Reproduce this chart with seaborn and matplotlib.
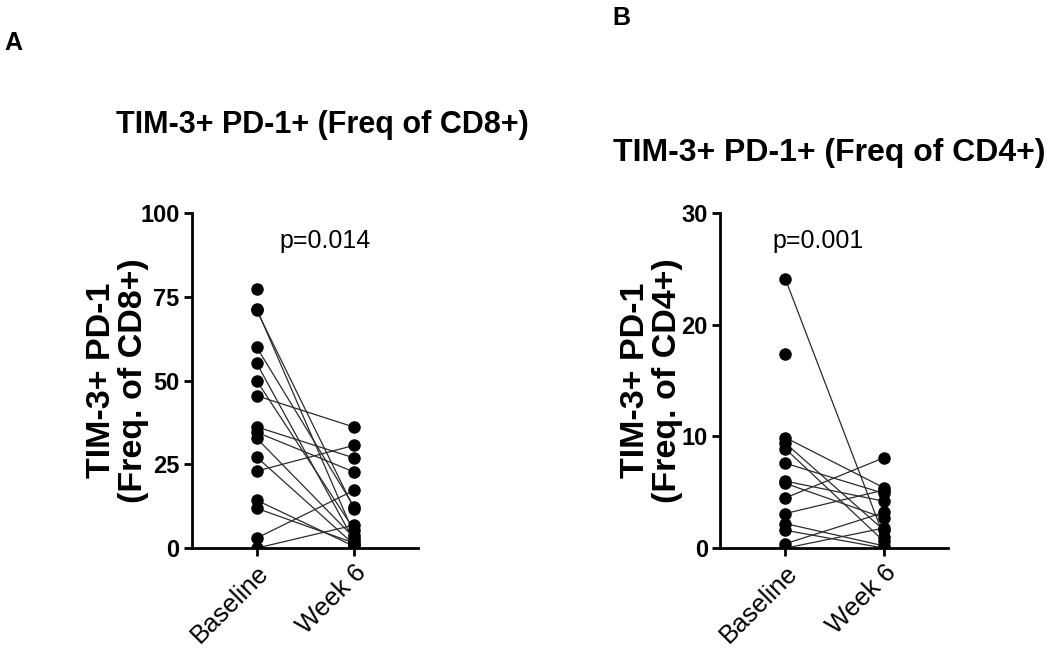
import matplotlib
matplotlib.use("Agg")
import matplotlib.pyplot as plt
import seaborn as sns
import numpy as np
import pandas as pd

# values (paired: baseline -> week 6)
timepoints = ["Baseline", "Week 6"]

cd8_baseline = [77.5, 71.5, 71.0, 60.0, 55.2, 50.0, 45.5, 36.2, 34.6, 32.8, 27.2, 23.0, 14.3, 11.9, 3.0, 0.0]
cd8_week6 = [np.nan, 4.0, 11.6, 12.2, 2.0, 5.4, 36.1, 26.9, 22.7, 3.0, 1.0, 30.7, 0.5, 1.5, 17.3, 6.9]

cd4_baseline = [24.1, 17.4, 9.9, 9.4, 8.9, 7.6, 6.0, 5.8, 4.5, 3.1, 2.2, 1.6, 0.4, 0.0]
cd4_week6 = [1.0, np.nan, 5.4, 1.6, 0.6, 4.9, 4.2, 2.7, 8.1, 5.2, 0.2, 0.0, 3.2, 1.8]

cd8_ticks = [0, 25, 50, 75, 100]
cd4_ticks = [0, 10, 20, 30]

sns.set_style("ticks")
plt.rcParams["font.family"] = ["Liberation Sans", "DejaVu Sans"]
for key in ["text.color", "axes.labelcolor", "xtick.color", "ytick.color", "axes.edgecolor"]:
    plt.rcParams[key] = "black"


def long_table(base, wk6):
    n = len(base)
    return pd.DataFrame({
        "subject": list(range(n)) * 2,
        "time": [timepoints[0]] * n + [timepoints[1]] * n,
        "value": list(base) + list(wk6),
    }).dropna()


def paired_panel(ax, df, ticks, ylabel, ptext, px, labx):
    sns.lineplot(data=df, x="time", y="value", units="subject", estimator=None,
                 color="#2b2b2b", linewidth=0.9, marker="o", markersize=9,
                 markeredgewidth=0, markerfacecolor="black", ax=ax, sort=False)
    ax.set_ylim(0, ticks[-1])
    ax.set_yticks(ticks)
    ax.set_xlim(-0.66, 1.65)
    ax.set_xticks([0, 1])
    ax.set_xticklabels(timepoints, rotation=45, ha="right", rotation_mode="anchor",
                       fontsize=18.5)
    for lab in ax.get_yticklabels():
        lab.set_fontweight("bold")
        lab.set_fontsize(17)
    ax.tick_params(axis="both", width=2, length=6, color="black", pad=3)
    for side in ["left", "bottom"]:
        ax.spines[side].set_linewidth(2)
    sns.despine(ax=ax)
    ax.set_xlabel("")
    ax.set_ylabel(ylabel, fontsize=24.5, fontweight="bold", linespacing=1.05)
    ax.yaxis.set_label_coords(labx, 0.5)
    ax.text(px, 0.918, ptext, transform=ax.transAxes, ha="center", va="center",
            fontsize=18)


fig = plt.figure(figsize=(10.5, 6.62), dpi=100)
ax1 = fig.add_axes([0.183, 0.172, 0.215, 0.506])
ax2 = fig.add_axes([0.686, 0.172, 0.217, 0.506])

paired_panel(ax1, long_table(cd8_baseline, cd8_week6), cd8_ticks,
             "TIM-3+ PD-1\n(Freq. of CD8+)", "p=0.014", 0.59, -0.19)
paired_panel(ax2, long_table(cd4_baseline, cd4_week6), cd4_ticks,
             "TIM-3+ PD-1\n(Freq. of CD4+)", "p=0.001", 0.43, -0.165)

fig.text(0.307, 0.811, "TIM-3+ PD-1+ (Freq of CD8+)", ha="center", va="center",
         fontsize=22, fontweight="bold")
fig.text(0.79, 0.769, "TIM-3+ PD-1+ (Freq of CD4+)", ha="center", va="center",
         fontsize=23, fontweight="bold")

fig.text(0.004, 0.925, "A", fontsize=18, fontweight="bold")
fig.text(0.583, 0.962, "B", fontsize=18, fontweight="bold")

fig.savefig("out.png", dpi=100, facecolor="white")
